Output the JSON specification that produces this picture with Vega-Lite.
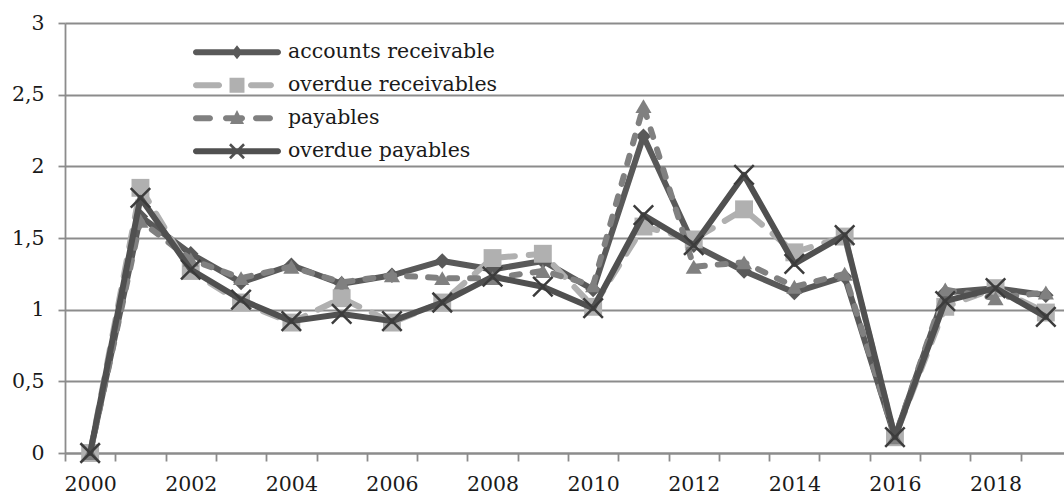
{
  "$schema": "https://vega.github.io/schema/vega-lite/v6.json",
  "width": 999,
  "height": 430,
  "autosize": {"type": "none"},
  "padding": {"left": 65, "top": 23, "right": 0, "bottom": 43},
  "background": "white",
  "config": {
    "view": {"stroke": null},
    "font": "DejaVu Serif"
  },
  "data": {
    "values": [
      {"year": 2000, "series": "accounts receivable", "v": 0},
      {"year": 2001, "series": "accounts receivable", "v": 1.65},
      {"year": 2002, "series": "accounts receivable", "v": 1.39},
      {"year": 2003, "series": "accounts receivable", "v": 1.19},
      {"year": 2004, "series": "accounts receivable", "v": 1.31},
      {"year": 2005, "series": "accounts receivable", "v": 1.18},
      {"year": 2006, "series": "accounts receivable", "v": 1.24},
      {"year": 2007, "series": "accounts receivable", "v": 1.34},
      {"year": 2008, "series": "accounts receivable", "v": 1.28},
      {"year": 2009, "series": "accounts receivable", "v": 1.34},
      {"year": 2010, "series": "accounts receivable", "v": 1.14},
      {"year": 2011, "series": "accounts receivable", "v": 2.21},
      {"year": 2012, "series": "accounts receivable", "v": 1.45},
      {"year": 2013, "series": "accounts receivable", "v": 1.27},
      {"year": 2014, "series": "accounts receivable", "v": 1.12},
      {"year": 2015, "series": "accounts receivable", "v": 1.23},
      {"year": 2016, "series": "accounts receivable", "v": 0.11},
      {"year": 2017, "series": "accounts receivable", "v": 1.12},
      {"year": 2018, "series": "accounts receivable", "v": 1.15},
      {"year": 2019, "series": "accounts receivable", "v": 1.1},
      {"year": 2000, "series": "overdue receivables", "v": 0},
      {"year": 2001, "series": "overdue receivables", "v": 1.85},
      {"year": 2002, "series": "overdue receivables", "v": 1.27},
      {"year": 2003, "series": "overdue receivables", "v": 1.05},
      {"year": 2004, "series": "overdue receivables", "v": 0.91},
      {"year": 2005, "series": "overdue receivables", "v": 1.08},
      {"year": 2006, "series": "overdue receivables", "v": 0.91},
      {"year": 2007, "series": "overdue receivables", "v": 1.05},
      {"year": 2008, "series": "overdue receivables", "v": 1.36},
      {"year": 2009, "series": "overdue receivables", "v": 1.39},
      {"year": 2010, "series": "overdue receivables", "v": 1.02},
      {"year": 2011, "series": "overdue receivables", "v": 1.58},
      {"year": 2012, "series": "overdue receivables", "v": 1.49},
      {"year": 2013, "series": "overdue receivables", "v": 1.7},
      {"year": 2014, "series": "overdue receivables", "v": 1.4},
      {"year": 2015, "series": "overdue receivables", "v": 1.51},
      {"year": 2016, "series": "overdue receivables", "v": 0.11},
      {"year": 2017, "series": "overdue receivables", "v": 1.02},
      {"year": 2018, "series": "overdue receivables", "v": 1.15},
      {"year": 2019, "series": "overdue receivables", "v": 0.98},
      {"year": 2000, "series": "payables", "v": 0},
      {"year": 2001, "series": "payables", "v": 1.62},
      {"year": 2002, "series": "payables", "v": 1.35},
      {"year": 2003, "series": "payables", "v": 1.22},
      {"year": 2004, "series": "payables", "v": 1.3},
      {"year": 2005, "series": "payables", "v": 1.19},
      {"year": 2006, "series": "payables", "v": 1.24},
      {"year": 2007, "series": "payables", "v": 1.22},
      {"year": 2008, "series": "payables", "v": 1.22},
      {"year": 2009, "series": "payables", "v": 1.27},
      {"year": 2010, "series": "payables", "v": 1.17},
      {"year": 2011, "series": "payables", "v": 2.42},
      {"year": 2012, "series": "payables", "v": 1.3},
      {"year": 2013, "series": "payables", "v": 1.33},
      {"year": 2014, "series": "payables", "v": 1.16},
      {"year": 2015, "series": "payables", "v": 1.25},
      {"year": 2016, "series": "payables", "v": 0.11},
      {"year": 2017, "series": "payables", "v": 1.14},
      {"year": 2018, "series": "payables", "v": 1.08},
      {"year": 2019, "series": "payables", "v": 1.12},
      {"year": 2000, "series": "overdue payables", "v": 0},
      {"year": 2001, "series": "overdue payables", "v": 1.78},
      {"year": 2002, "series": "overdue payables", "v": 1.28},
      {"year": 2003, "series": "overdue payables", "v": 1.07},
      {"year": 2004, "series": "overdue payables", "v": 0.92},
      {"year": 2005, "series": "overdue payables", "v": 0.97},
      {"year": 2006, "series": "overdue payables", "v": 0.92},
      {"year": 2007, "series": "overdue payables", "v": 1.05},
      {"year": 2008, "series": "overdue payables", "v": 1.23},
      {"year": 2009, "series": "overdue payables", "v": 1.16},
      {"year": 2010, "series": "overdue payables", "v": 1.01},
      {"year": 2011, "series": "overdue payables", "v": 1.66},
      {"year": 2012, "series": "overdue payables", "v": 1.45},
      {"year": 2013, "series": "overdue payables", "v": 1.94},
      {"year": 2014, "series": "overdue payables", "v": 1.32},
      {"year": 2015, "series": "overdue payables", "v": 1.52},
      {"year": 2016, "series": "overdue payables", "v": 0.11},
      {"year": 2017, "series": "overdue payables", "v": 1.06},
      {"year": 2018, "series": "overdue payables", "v": 1.15},
      {"year": 2019, "series": "overdue payables", "v": 0.95}
    ]
  },
  "encoding": {
    "x": {
      "field": "year",
      "type": "ordinal",
      "bandPosition": 0.5,
      "scale": {"type": "band", "paddingInner": 0, "paddingOuter": 0, "range": [0, 1006]},
      "axis": {
        "title": null,
        "labelAngle": 0,
        "labelFont": "DejaVu Serif",
        "labelFontSize": 20.5,
        "labelColor": "#1a1a1a",
        "labelPadding": 13,
        "labelOverlap": false,
        "labelExpr": "toNumber(datum.value) % 2 === 0 ? datum.label : ''",
        "tickBand": "extent",
        "ticks": true,
        "tickSize": 8,
        "tickWidth": 1.8,
        "tickColor": "#8c8c8c",
        "domainColor": "#8c8c8c",
        "domainWidth": 1.8,
        "grid": false
      }
    },
    "y": {
      "field": "v",
      "type": "quantitative",
      "scale": {"domain": [0, 3], "nice": false, "zero": true},
      "axis": {
        "title": null,
        "values": [0, 0.5, 1, 1.5, 2, 2.5, 3],
        "format": ".1~f",
        "labelExpr": "replace(datum.label, '.', ',')",
        "labelFont": "DejaVu Serif",
        "labelFontSize": 20.5,
        "labelColor": "#1a1a1a",
        "labelPadding": 14,
        "ticks": true,
        "tickSize": 7,
        "tickWidth": 1.8,
        "tickColor": "#8c8c8c",
        "domain": true,
        "domainColor": "#8c8c8c",
        "domainWidth": 1.8,
        "grid": true,
        "gridColor": "#8c8c8c",
        "gridWidth": 1.8
      }
    }
  },
  "layer": [
    {
      "transform": [{"filter": "datum.series === 'accounts receivable'"}],
      "mark": {"type": "line", "color": "#595959", "strokeWidth": 6, "strokeJoin": "round", "strokeCap": "round"}
    },
    {
      "transform": [{"filter": "datum.series === 'accounts receivable'"}],
      "mark": {"type": "point", "shape": "diamond", "filled": true, "size": 240, "color": "#595959", "opacity": 1}
    },
    {
      "transform": [{"filter": "datum.series === 'overdue receivables'"}],
      "mark": {"type": "line", "color": "#b0b0b0", "strokeWidth": 6, "strokeJoin": "round", "strokeCap": "round", "strokeDash": [16, 14]}
    },
    {
      "transform": [{"filter": "datum.series === 'overdue receivables'"}],
      "mark": {"type": "point", "shape": "square", "filled": true, "size": 320, "color": "#b0b0b0", "opacity": 1}
    },
    {
      "transform": [{"filter": "datum.series === 'payables'"}],
      "mark": {"type": "line", "color": "#808080", "strokeWidth": 6, "strokeJoin": "round", "strokeCap": "round", "strokeDash": [8, 13]}
    },
    {
      "transform": [{"filter": "datum.series === 'payables'"}],
      "mark": {"type": "point", "shape": "triangle-up", "filled": true, "size": 260, "color": "#808080", "opacity": 1}
    },
    {
      "transform": [{"filter": "datum.series === 'overdue payables'"}],
      "mark": {"type": "line", "color": "#505050", "strokeWidth": 6, "strokeJoin": "round", "strokeCap": "round"}
    },
    {
      "transform": [{"filter": "datum.series === 'overdue payables'"}],
      "mark": {"type": "point", "shape": "M-1,-1L1,1M-1,1L1,-1", "filled": false, "size": 380, "stroke": "#3c3c3c", "strokeWidth": 2.5, "opacity": 1}
    },
    {
      "transform": [{"filter": "false"}],
      "mark": {"type": "point", "filled": true, "opacity": 1, "size": 7744, "strokeWidth": 0},
      "encoding": {
        "shape": {
          "field": "series",
          "type": "nominal",
          "scale": {
            "domain": ["accounts receivable", "overdue receivables", "payables", "overdue payables"],
            "range": [
              "M-0.932,-0.068L0.932,-0.068A0.068,0.068,0,0,1,0.932,0.068L-0.932,0.068A0.068,0.068,0,0,1,-0.932,-0.068ZM0,-0.16L0.125,0L0,0.16L-0.125,0Z",
              "M-0.932,-0.068L-0.408,-0.068A0.068,0.068,0,0,1,-0.408,0.068L-0.932,0.068A0.068,0.068,0,0,1,-0.932,-0.068ZM-0.17,-0.17L0.17,-0.17L0.17,0.17L-0.17,0.17ZM0.318,-0.068L0.772,-0.068A0.068,0.068,0,0,1,0.772,0.068L0.318,0.068A0.068,0.068,0,0,1,0.318,-0.068Z",
              "M-0.932,-0.068L-0.614,-0.068A0.068,0.068,0,0,1,-0.614,0.068L-0.932,0.068A0.068,0.068,0,0,1,-0.932,-0.068ZM-0.25,-0.068L0.114,-0.068A0.068,0.068,0,0,1,0.114,0.068L-0.25,0.068A0.068,0.068,0,0,1,-0.25,-0.068ZM0,-0.19L0.16,0.13L-0.16,0.13ZM0.432,-0.068L0.75,-0.068A0.068,0.068,0,0,1,0.75,0.068L0.432,0.068A0.068,0.068,0,0,1,0.432,-0.068Z",
              "M-0.932,-0.068L0.932,-0.068A0.068,0.068,0,0,1,0.932,0.068L-0.932,0.068A0.068,0.068,0,0,1,-0.932,-0.068ZM-0.139,-0.181L0.181,0.139L0.139,0.181L-0.181,-0.139ZM-0.139,0.181L-0.181,0.139L0.139,-0.181L0.181,-0.139Z"
            ]
          },
          "legend": {
            "title": null,
            "orient": "none",
            "legendX": 128,
            "legendY": 13,
            "padding": 0,
            "symbolSize": 7744,
            "symbolStrokeWidth": 0,
            "clipHeight": 32.5,
            "rowPadding": 0,
            "labelFont": "DejaVu Serif",
            "labelFontSize": 20.5,
            "labelColor": "#1a1a1a",
            "labelOffset": 7,
            "labelLimit": 400
          }
        },
        "color": {
          "field": "series",
          "type": "nominal",
          "scale": {
            "domain": ["accounts receivable", "overdue receivables", "payables", "overdue payables"],
            "range": ["#595959", "#b0b0b0", "#808080", "#505050"]
          },
          "legend": {
            "title": null,
            "orient": "none",
            "legendX": 128,
            "legendY": 13,
            "padding": 0,
            "symbolSize": 7744,
            "symbolStrokeWidth": 0,
            "clipHeight": 32.5,
            "rowPadding": 0,
            "labelFont": "DejaVu Serif",
            "labelFontSize": 20.5,
            "labelColor": "#1a1a1a",
            "labelOffset": 7,
            "labelLimit": 400
          }
        }
      }
    }
  ]
}
